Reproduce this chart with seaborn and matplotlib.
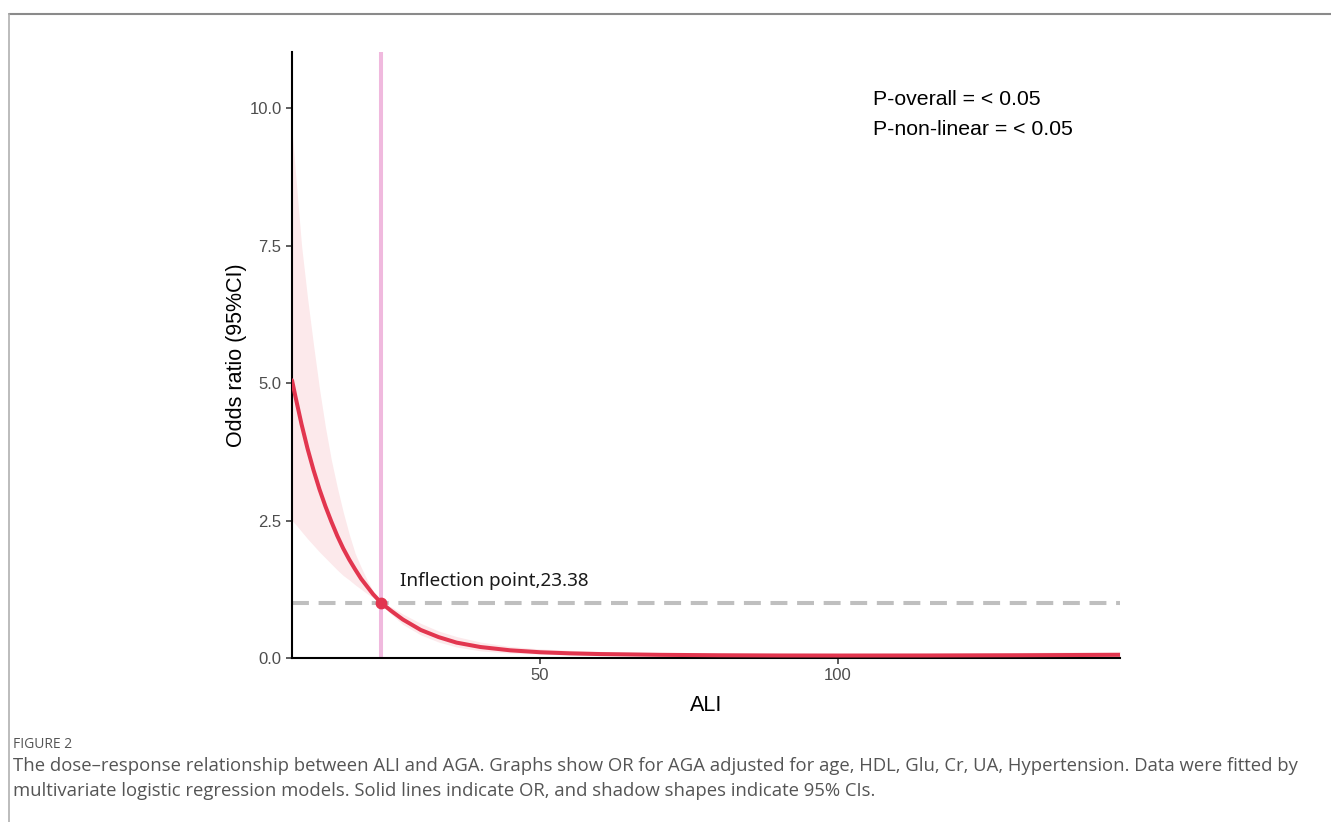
import numpy as np
import pandas as pd
import matplotlib
matplotlib.use("Agg")
import matplotlib.pyplot as plt
import seaborn as sns
from matplotlib.lines import Line2D

# values (ALI vs OR with 95% CI)
ali = [8.4, 9, 10, 11, 12, 13, 14, 15, 16, 17, 18, 19, 20, 21, 22, 23.38,
       25, 27, 30, 33, 36, 40, 45, 50, 55, 60, 70, 80, 90, 100, 115, 130, 147.3]
odds = [5.05, 4.74, 4.25, 3.81, 3.42, 3.07, 2.76, 2.48, 2.22, 1.99, 1.79, 1.61, 1.44, 1.30, 1.16, 1.0,
        0.86, 0.70, 0.51, 0.38, 0.28, 0.20, 0.14, 0.105, 0.085, 0.072, 0.058, 0.05, 0.046, 0.045, 0.046, 0.05, 0.058]
upper = [9.6, 8.8, 7.5, 6.55, 5.7, 4.9, 4.2, 3.6, 3.1, 2.65, 2.25, 1.9, 1.65, 1.42, 1.22, 1.0,
         0.93, 0.80, 0.63, 0.49, 0.39, 0.29, 0.21, 0.165, 0.14, 0.12, 0.10, 0.09, 0.086, 0.085, 0.088, 0.10, 0.12]
lower = [2.5, 2.43, 2.3, 2.17, 2.05, 1.93, 1.82, 1.71, 1.6, 1.5, 1.42, 1.33, 1.25, 1.17, 1.1, 1.0,
         0.80, 0.61, 0.42, 0.29, 0.20, 0.13, 0.09, 0.07, 0.055, 0.045, 0.035, 0.03, 0.027, 0.025, 0.025, 0.025, 0.025]
inflection = 23.38
x_ticks = [50, 100]
y_ticks = [0.0, 2.5, 5.0, 7.5, 10.0]

df = pd.DataFrame({"ALI": ali, "OR": odds, "upper": upper, "lower": lower})

sns.set_theme(style="ticks")
plt.rcParams["font.family"] = ["Liberation Sans", "DejaVu Sans"]

fig = plt.figure(figsize=(13.31, 8.22), dpi=100)
ax = fig.add_axes([0.2194, 0.1995, 0.8415 - 0.2194, 0.9367 - 0.1995])

red = "#E2364F"
ax.fill_between(df["ALI"], df["lower"], df["upper"], color="#FCE9EB", linewidth=0, zorder=1)
ax.axhline(1, color="#BFBFBF", lw=2.9, dashes=(4.2, 2.4), zorder=2)
ax.axvline(inflection, color="#F0B9DE", lw=2.9, zorder=2)
sns.lineplot(data=df, x="ALI", y="OR", color=red, lw=2.9, ax=ax, zorder=3)
ax.plot([inflection], [1.0], "o", color=red, ms=7.5, zorder=4)

ax.text(26.5, 1.4, "Inflection point,23.38", fontsize=13.6, family=["Noto Sans", "DejaVu Sans"],
        va="center", ha="left", color="#1a1a1a")
ax.text(105.9, 10.15, "P-overall = < 0.05", fontsize=15.3, va="center", ha="left", color="black")
ax.text(105.9, 9.62, "P-non-linear = < 0.05", fontsize=15.3, va="center", ha="left", color="black")

ax.set_xlim(8.4, 147.3)
ax.set_ylim(0, 11.02)
ax.set_xticks(x_ticks)
ax.set_yticks(y_ticks)
ax.set_yticklabels([f"{v:.1f}" for v in y_ticks])
ax.tick_params(axis="both", labelsize=12, labelcolor="#4D4D4D", color="#333333",
               length=4, width=1.1, direction="out")
for s in ["top", "right"]:
    ax.spines[s].set_visible(False)
for s in ["left", "bottom"]:
    ax.spines[s].set_color("black")
    ax.spines[s].set_linewidth(1.5)
ax.set_xlabel("ALI", fontsize=15.5, color="black", labelpad=8)
ax.set_ylabel("Odds ratio (95%CI)", fontsize=15.5, color="black", labelpad=1.5)

# page frame lines
fig.add_artist(Line2D([9 / 1331, 1], [1 - 14 / 822, 1 - 14 / 822], color="#8a8a8a", lw=1.5))
fig.add_artist(Line2D([9 / 1331, 9 / 1331], [0, 1 - 14 / 822], color="#b0b0b0", lw=1.2))

cap_font = ["Open Sans", "DejaVu Sans"]
fig.text(13 / 1331, 1 - 745 / 822, "FIGURE 2", fontsize=10, color="#555555", family=cap_font,
         va="center", ha="left")
fig.text(13 / 1331, 1 - 766 / 822,
         "The dose\u2013response relationship between ALI and AGA. Graphs show OR for AGA adjusted for age, HDL, Glu, Cr, UA, Hypertension. Data were fitted by",
         fontsize=13.3, color="#555555", family=cap_font, va="center", ha="left")
fig.text(13 / 1331, 1 - 791 / 822,
         "multivariate logistic regression models. Solid lines indicate OR, and shadow shapes indicate 95% CIs.",
         fontsize=13.3, color="#555555", family=cap_font, va="center", ha="left")

fig.savefig("out.png", dpi=100, facecolor="white")
